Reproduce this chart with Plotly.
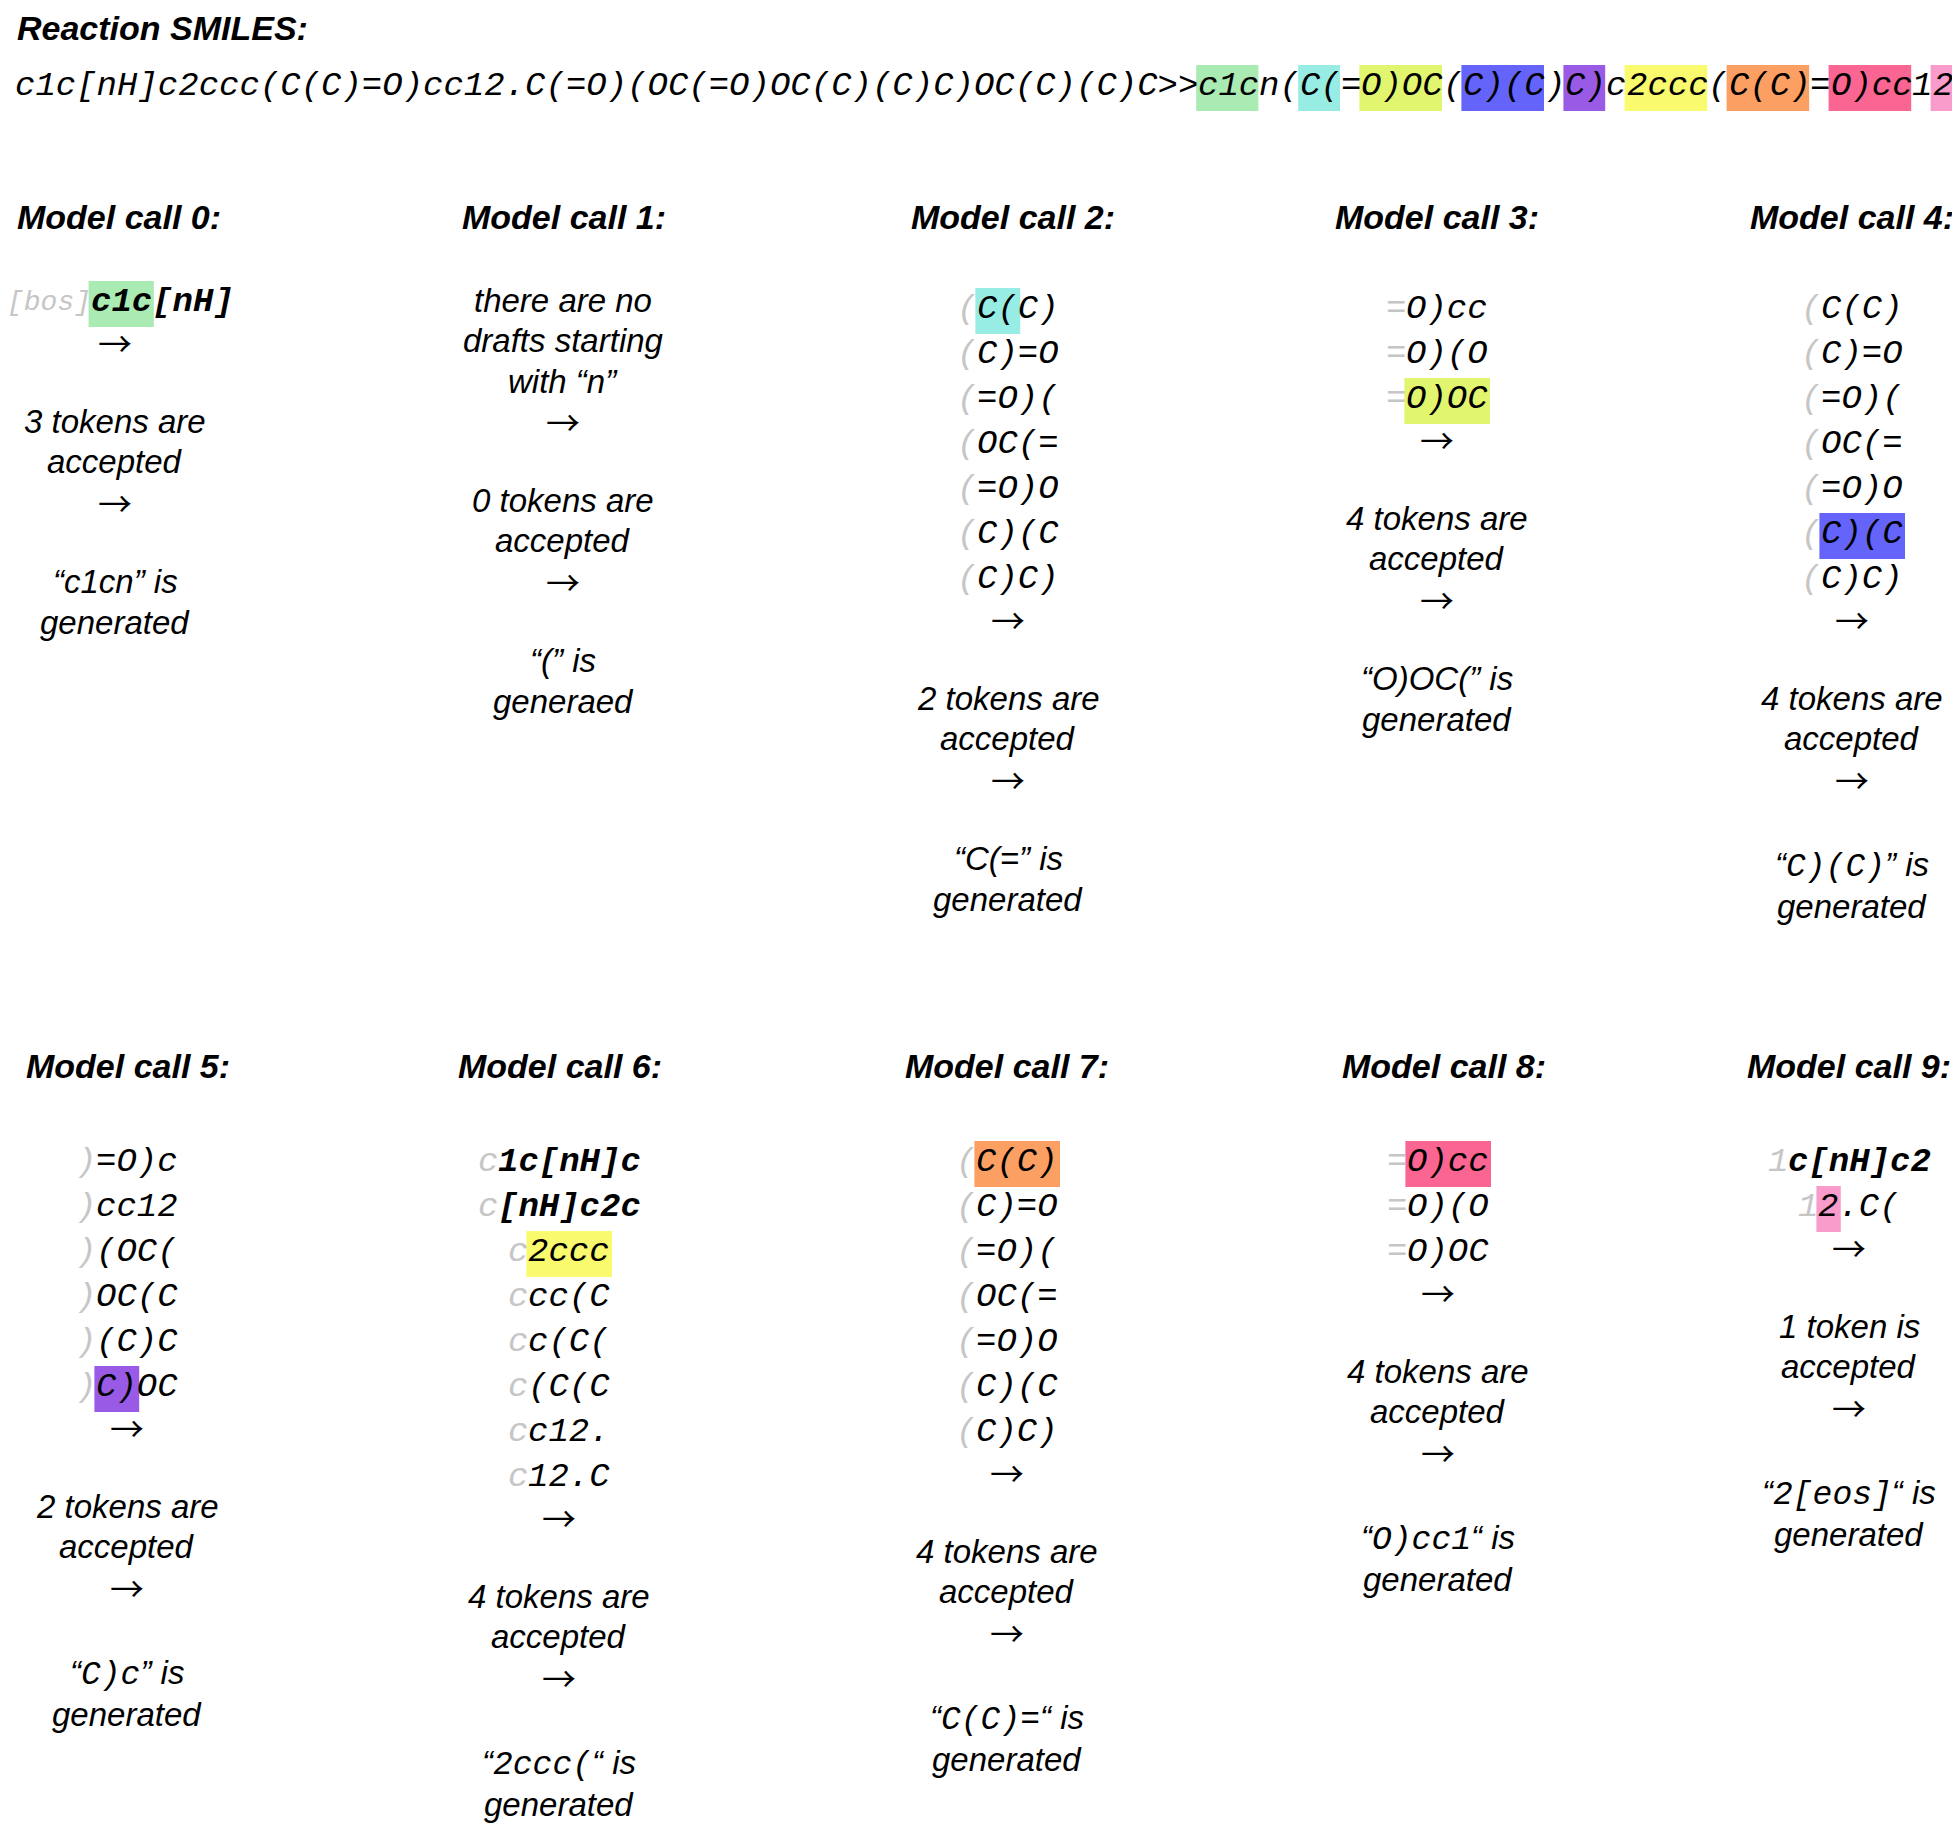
import plotly.graph_objects as go

W, H = 1960, 1825
SANS = "Liberation Sans"
MONO = "Liberation Mono"
ARROW_FONT = "Noto Sans CJK JP"
GREY = "#c6c6c6"

# ---- data -----------------------------------------------------------------
reactants = "c1c[nH]c2ccc(C(C)=O)cc12.C(=O)(OC(=O)OC(C)(C)C)OC(C)(C)C>>"
product = "c1cn(C(=O)OC(C)(C)C)c2ccc(C(C)=O)cc12"

# coloured pieces of the product string (start, end) and their colours
top_spans = [(0, 3), (5, 7), (8, 12), (13, 17), (18, 20), (21, 25), (26, 30), (31, 35), (36, 37)]
top_colors = ["#a9ebb3", "#97ece4", "#e2f56f", "#6464fa", "#995be6",
              "#fafa6f", "#fb9f63", "#fa6592", "#fa9ccb"]

call_ids = list(range(10))
draft_prefix = ["[bos]", "", "(", "=", "(", ")", "c", "(", "=", "1"]
draft_lines = [
    ["c1c[nH]"],
    [],
    ["C(C)", "C)=O", "=O)(", "OC(=", "=O)O", "C)(C", "C)C)"],
    ["O)cc", "O)(O", "O)OC"],
    ["C(C)", "C)=O", "=O)(", "OC(=", "=O)O", "C)(C", "C)C)"],
    ["=O)c", "cc12", "(OC(", "OC(C", "(C)C", "C)OC"],
    ["1c[nH]c", "[nH]c2c", "2ccc", "cc(C", "c(C(", "(C(C", "c12.", "12.C"],
    ["C(C)", "C)=O", "=O)(", "OC(=", "=O)O", "C)(C", "C)C)"],
    ["O)cc", "O)(O", "O)OC"],
    ["c[nH]c2", "2.C("],
]
bold_lines = {(0, 0), (6, 0), (6, 1), (9, 0)}
hit_line = [0, None, 0, 2, 5, 5, 2, 0, 0, 1]
accepted = [3, 0, 2, 4, 4, 2, 4, 4, 4, 1]
hit_color = ["#a9ebb3", None, "#97ece4", "#e2f56f", "#6464fa",
             "#995be6", "#fafa6f", "#fb9f63", "#fa6592", "#fa9ccb"]

note_lines = ["there are no", "drafts starting", "with “n”"]   # model call 1

generated = ["c1cn", "(", "C(=", "O)OC(", "C)(C)", "C)c", "2ccc(", "C(C)=", "O)cc1", "2[eos]"]
gen_mono = [False, False, False, False, True, True, True, True, True, True]
close_q = ["”", "”", "”", "”", "”", "”", "“", "“", "“", "“"]
gen_word = ["generated", "generaed"] + ["generated"] * 8

# ---- layout constants -----------------------------------------------------
col_x = [112, 560, 1005, 1434, 1849, 124, 556, 1004, 1435, 1846]
draft_x = [117, 560, 1005, 1434, 1849, 124, 556, 1004, 1435, 1846]
head_x = [116, 561, 1010, 1434, 1849, 125, 557, 1004, 1441, 1846]
header_y = [215, 1064]
first_y = [300, 298, 307, 307, 307, 1160, 1160, 1160, 1160, 1160]
DX, DY = -5, -6     # nudge for where the browser puts the glyphs
DFS = 34            # draft font size
CW = 0.6 * DFS      # monospace advance
LINE = 45
ARROW_GAP = 42
TEXT_GAP = 77
TEXT_LINE = 40.5
TFS = 33

fig = go.Figure()
fig.add_trace(go.Scatter(x=[], y=[], hoverinfo="skip", showlegend=False))

ann = []
shapes = []


def text(x, y, s, fam=SANS, size=TFS, color="black", style="italic", weight="normal", anchor="center"):
    ann.append(dict(x=x + DX, y=y + DY, xref="x", yref="y", text=s, showarrow=False,
                    xanchor=anchor, yanchor="middle", borderpad=0, borderwidth=0,
                    font=dict(family=fam, size=size, color=color, style=style, weight=weight)))


def box(x0, x1, yc, color):
    shapes.append(dict(type="rect", xref="x", yref="y", x0=x0 + DX, x1=x1 + DX,
                       y0=yc - 23 + DY, y1=yc + 23 + DY,
                       fillcolor=color, line=dict(width=0), layer="below"))


# title and reaction smiles
text(14, 26, "Reaction SMILES:", size=34, weight="bold", anchor="left")
full = reactants + product
off = len(reactants)
sx0 = 12
sy = 84
for (a, b), c in zip(top_spans, top_colors):
    box(sx0 + (off + a) * CW - 2, sx0 + (off + b) * CW - 1, sy + 2, c)
# draw the string in pieces, cut where the colours change, so every piece sits on its cells
cuts = sorted({0, len(full)} | {off + a for a, b in top_spans} | {off + b for a, b in top_spans})
for a, b in zip(cuts[:-1], cuts[1:]):
    text(sx0 + a * CW, sy, full[a:b], fam=MONO, size=DFS, anchor="left")

# model call columns
for k in call_ids:
    cx = col_x[k]
    row = 0 if k < 5 else 1
    text(head_x[k], header_y[row], f"Model call {k}:", size=34, weight="bold")

    y = first_y[k]
    if draft_lines[k]:
        pre = draft_prefix[k]
        pfs = 28 if len(pre) > 1 else DFS
        pw = len(pre) * 0.6 * pfs
        for i, line in enumerate(draft_lines[k]):
            yi = y + i * LINE
            xm = draft_x[k] - (pw + len(line) * CW) / 2 + pw
            if hit_line[k] == i:
                box(xm - 2, xm + accepted[k] * CW + 2, yi + 2, hit_color[k])
            text(xm, yi, pre, fam=MONO, size=pfs, color=GREY, anchor="right")
            text(xm, yi, line, fam=MONO, size=DFS, anchor="left",
                 weight="bold" if (k, i) in bold_lines else "normal")
        last = y + (len(draft_lines[k]) - 1) * LINE
    else:
        for i, line in enumerate(note_lines):
            text(cx, y + i * TEXT_LINE, line)
        last = y + (len(note_lines) - 1) * TEXT_LINE

    ya = last + ARROW_GAP
    text(cx, ya - 2, "→", fam=ARROW_FONT, size=34, style="normal")
    yt = ya + TEXT_GAP
    if accepted[k] == 1:
        text(cx, yt, f"{accepted[k]} token is")
    else:
        text(cx, yt, f"{accepted[k]} tokens are")
    text(cx, yt + TEXT_LINE, "accepted")
    ya2 = yt + TEXT_LINE + ARROW_GAP + 1
    text(cx, ya2 - 2, "→", fam=ARROW_FONT, size=34, style="normal")
    yr = ya2 + (84 if gen_mono[k] else 77)
    if gen_mono[k]:
        g = f"<span style=\"font-family:{MONO}\">{generated[k]}</span>"
    else:
        g = generated[k]
    text(cx, yr, f"“{g}{close_q[k]} is")
    text(cx, yr + TEXT_LINE, gen_word[k])

fig.update_layout(
    width=W, height=H,
    margin=dict(l=0, r=0, t=0, b=0),
    paper_bgcolor="white", plot_bgcolor="white",
    xaxis=dict(range=[0, W], visible=False, fixedrange=True),
    yaxis=dict(range=[H, 0], visible=False, fixedrange=True),
    annotations=ann, shapes=shapes, showlegend=False,
)
fig.write_html("out.html")
